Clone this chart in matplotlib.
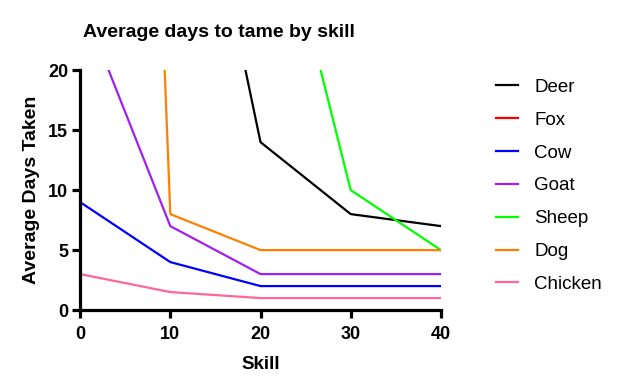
import numpy as np
import matplotlib.pyplot as plt

plt.rcParams['font.family'] = ['Liberation Sans', 'DejaVu Sans']

# skill levels and average days taken per animal
skill = [0, 10, 20, 30, 40]
deer = [100, 50, 14, 8, 7]
fox = [150, 100, 60, 40, 30]
cow = [9, 4, 2, 2, 2]
goat = [26, 7, 3, 3, 3]
sheep = [200, 100, 40, 10, 5]
dog = [200, 8, 5, 5, 5]
chicken = [3, 1.5, 1, 1, 1]

series = [
    ("Deer", deer, "#000000"),
    ("Fox", fox, "#ff0000"),
    ("Cow", cow, "#0000ff"),
    ("Goat", goat, "#a020f0"),
    ("Sheep", sheep, "#00ff00"),
    ("Dog", dog, "#ff8000"),
    ("Chicken", chicken, "#ff6699"),
]

fig = plt.figure(figsize=(6.21, 3.92), dpi=100)
ax = fig.add_axes([0.129, 0.209, 0.581, 0.612])

for name, vals, col in series:
    ax.plot(skill, vals, color=col, lw=1.6, label=name)

ax.set_xlim(0, 40)
ax.set_ylim(0, 20)
ax.set_xticks([0, 10, 20, 30, 40])
ax.set_yticks([0, 5, 10, 15, 20])

for s in ["top", "right"]:
    ax.spines[s].set_visible(False)
for s in ["left", "bottom"]:
    ax.spines[s].set_linewidth(2.3)
ax.tick_params(width=2.3, length=5.5, direction="out", labelsize=13, pad=3)
ax.tick_params(axis="x", pad=6)
for lbl in ax.get_xticklabels() + ax.get_yticklabels():
    lbl.set_fontweight("bold")

ax.set_xlabel("Skill", fontsize=13.5, fontweight="bold", labelpad=9)
ax.set_ylabel("Average Days Taken", fontsize=14, fontweight="bold", labelpad=6)
fig.text(0.352, 0.918, "Average days to tame by skill", fontsize=14, fontweight="bold",
         ha="center", va="center")

leg = ax.legend(loc="upper left", bbox_to_anchor=(1.105, 1.035), frameon=False,
                fontsize=13.5, handlelength=1.2, labelspacing=0.84, handletextpad=0.85)

fig.savefig("out.png", dpi=100)
